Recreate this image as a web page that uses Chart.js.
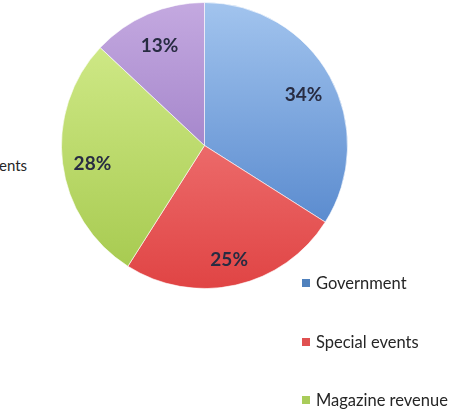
<!DOCTYPE html>
<html>
<head>
<meta charset="utf-8">
<script src="https://cdn.jsdelivr.net/npm/chart.js@4"></script>
<style>
  html, body { margin: 0; padding: 0; background: #fff; }
  body { width: 469px; height: 412px; position: relative; overflow: hidden; font-family: Lato, "Open Sans", sans-serif; }
  #wrap { position: absolute; left: 61px; top: 2px; width: 287px; height: 287px; }
  #legend { position: absolute; left: 302px; top: 273px; margin: 0; padding: 0; list-style: none; }
  #legend li { height: 58.5px; font-size: 16.5px; color: #262626; display: flex; align-items: flex-start; }
  #legend span.box { display: inline-block; width: 8px; height: 8px; margin: 6px 6px 0 0; }
  #cut { position: absolute; left: -1px; top: 156px; font-size: 15px; color: #262626; }
</style>
</head>
<body>
<div id="cut">ents</div>
<div id="wrap"><canvas id="pieChart"></canvas></div>
<ul id="legend"></ul>
<script>
var labels = ['Government', 'Special events', 'Magazine revenue', 'Other'];
var shares = [34, 25, 28, 13];
var lightColors = ['#a2c4ee', '#f89090', '#d6ee90', '#c4a9e0'];
var darkColors = ['#467bc6', '#e04444', '#a4c84c', '#8865b8'];
var legendColors = ['#4f81bd', '#e05050', '#a9cc5a', '#8064a2'];

document.addEventListener('DOMContentLoaded', function() {
    var canvas = document.getElementById('pieChart');

    var legend = document.getElementById('legend');
    labels.forEach(function(name, i) {
        var li = document.createElement('li');
        li.innerHTML = '<span class="box" style="background:' + legendColors[i] + '"></span>' + name;
        legend.appendChild(li);
    });

    // percentage labels inside the slices
    var sliceLabels = {
        id: 'sliceLabels',
        afterDatasetsDraw: function(chart) {
            var ctx = chart.ctx;
            var meta = chart.getDatasetMeta(0);
            ctx.save();
            ctx.font = 'bold 19px Lato, "Open Sans", sans-serif';
            ctx.fillStyle = '#282c42';
            ctx.textAlign = 'center';
            ctx.textBaseline = 'middle';
            meta.data.forEach(function(arc, i) {
                var mid = (arc.startAngle + arc.endAngle) / 2;
                var r = arc.outerRadius * 0.79;
                ctx.fillText(shares[i] + '%', arc.x + Math.cos(mid) * r, arc.y + Math.sin(mid) * r + 4);
            });
            ctx.restore();
        }
    };

    new Chart(canvas, {
        type: 'pie',
        data: {
            labels: labels,
            datasets: [{
                data: shares,
                backgroundColor: function(context) {
                    var area = context.chart.chartArea;
                    if (!area) return lightColors[context.dataIndex];
                    var g = context.chart.ctx.createLinearGradient(0, area.top, 0, area.bottom);
                    g.addColorStop(0, lightColors[context.dataIndex]);
                    g.addColorStop(1, darkColors[context.dataIndex]);
                    return g;
                },
                borderColor: 'rgba(255,255,255,0.6)',
                borderWidth: 1
            }]
        },
        options: {
            responsive: true,
            maintainAspectRatio: false,
            animation: false,
            layout: { padding: 0 },
            plugins: {
                legend: { display: false },
                tooltip: { enabled: false }
            }
        },
        plugins: [sliceLabels]
    });
});
</script>
</body>
</html>
